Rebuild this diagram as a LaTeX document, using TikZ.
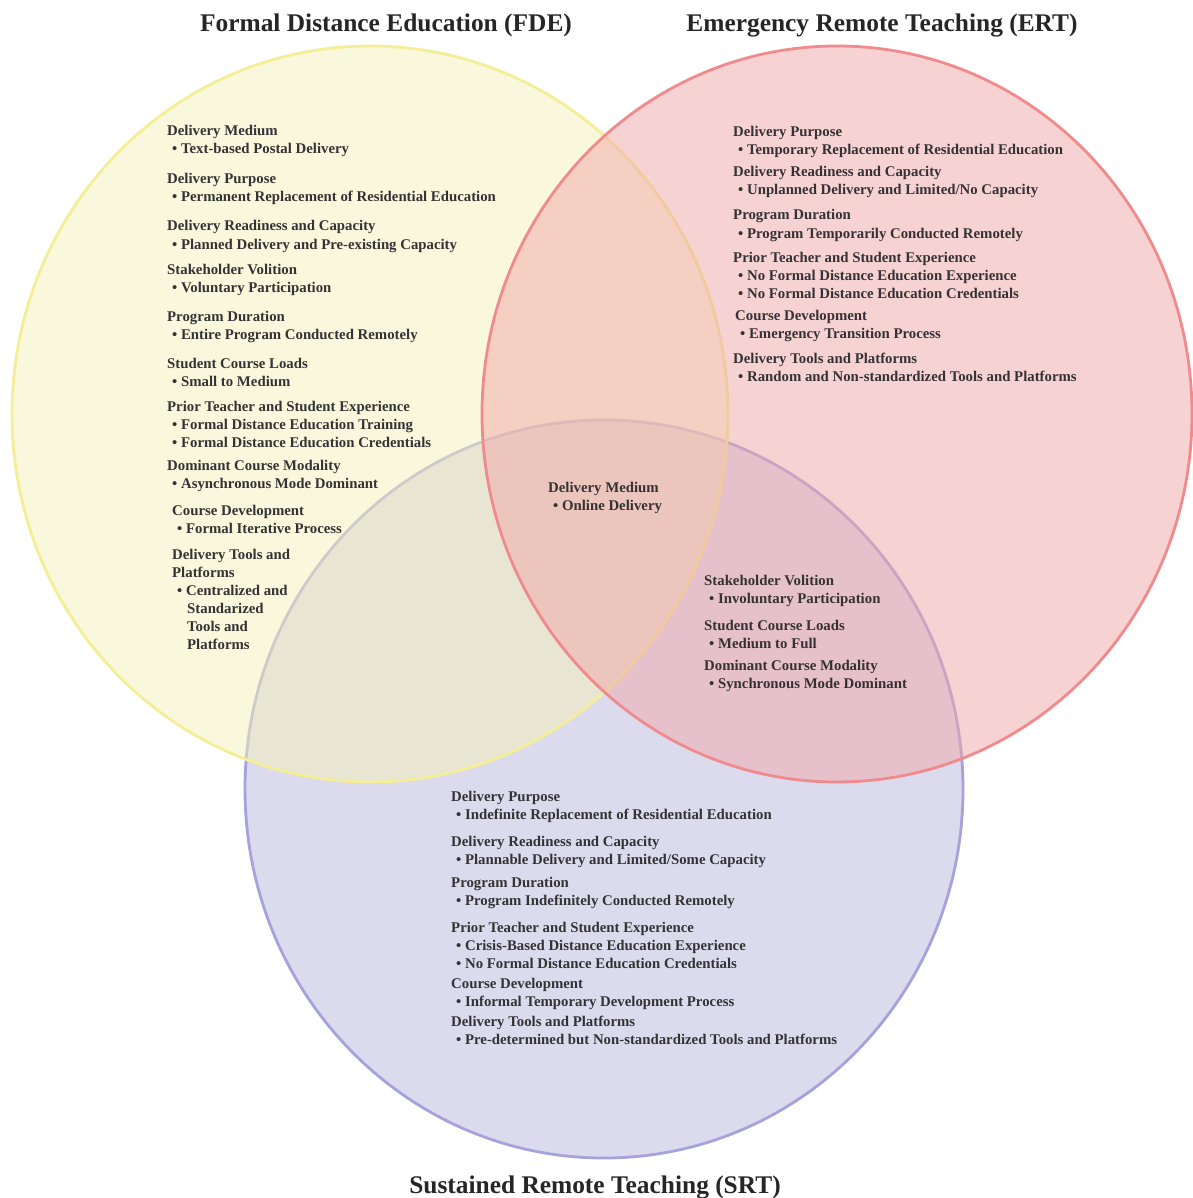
\documentclass[tikz,border=0pt]{standalone}
\usepackage{fontspec}
\setmainfont{Liberation Serif}
\definecolor{yelC}{RGB}{246,242,186}
\definecolor{redC}{RGB}{241,167,169}
\definecolor{bluC}{RGB}{185,185,221}
\definecolor{yelL}{RGB}{244,238,150}
\definecolor{redL}{RGB}{240,138,140}
\definecolor{bluL}{RGB}{165,162,220}
\definecolor{txtc}{RGB}{52,50,52}
\tikzset{
  setcirc/.style={line width=2.8pt, fill opacity=0.5, draw opacity=1},
  hd/.style={anchor=base west, inner sep=0pt, text=txtc, font=\bfseries\fontsize{14.8}{16}\selectfont},
  bl/.style={hd, xshift=5pt},
  ttl/.style={anchor=base, inner sep=0pt, text=black!85, font=\bfseries\fontsize{25.4}{28}\selectfont}
}
\newcommand{\bul}{\textbullet\ }
\begin{document}
\begin{tikzpicture}[x=1pt,y=-1pt]
\useasboundingbox (0,0) rectangle (1192,1198);
\fill[white] (0,0) rectangle (1192,1198);
% circles
\draw[setcirc, fill=bluC, draw=bluL] (604,789) ellipse [x radius=359, y radius=369];
\draw[setcirc, fill=yelC, draw=yelL] (370,414) ellipse [x radius=358, y radius=368];
\draw[setcirc, fill=redC, draw=redL] (837,414) ellipse [x radius=355, y radius=368];
% titles
\node[ttl] (tfde) at (386,32) {Formal Distance Education (FDE)};
\node[ttl] (tert) at (882,32) {Emergency Remote Teaching (ERT)};
\node[ttl] (tsrt) at (595,1193) {Sustained Remote Teaching (SRT)};
% FDE
\node[hd] (f1)  at (167,136) {Delivery Medium};
\node[bl] (f2)  at (167,154) {\bul Text-based Postal Delivery};
\node[hd] (f3)  at (167,184) {Delivery Purpose};
\node[bl] (f4)  at (167,202) {\bul Permanent Replacement of Residential Education};
\node[hd] (f5)  at (167,231) {Delivery Readiness and Capacity};
\node[bl] (f6)  at (167,249) {\bul Planned Delivery and Pre-existing Capacity};
\node[hd] (f7)  at (167,274) {Stakeholder Volition};
\node[bl] (f8)  at (167,292) {\bul Voluntary Participation};
\node[hd] (f9)  at (167,321) {Program Duration};
\node[bl] (f10) at (167,339) {\bul Entire Program Conducted Remotely};
\node[hd] (f11) at (167,368) {Student Course Loads};
\node[bl] (f12) at (167,386) {\bul Small to Medium};
\node[hd] (f13) at (167,411) {Prior Teacher and Student Experience};
\node[bl] (f14) at (167,429) {\bul Formal Distance Education Training};
\node[bl] (f15) at (167,447) {\bul Formal Distance Education Credentials};
\node[hd] (f16) at (167,470) {Dominant Course Modality};
\node[bl] (f17) at (167,488) {\bul Asynchronous Mode Dominant};
\node[hd] (f18) at (172,515) {Course Development};
\node[bl] (f19) at (172,533) {\bul Formal Iterative Process};
\node[hd] (f20) at (172,559) {Delivery Tools and};
\node[hd] (f21) at (172,577) {Platforms};
\node[bl] (f22) at (172,595) {\bul Centralized and};
\node[hd] (f23) at (187,613) {Standarized};
\node[hd] (f24) at (187,631) {Tools and};
\node[hd] (f25) at (187,649) {Platforms};
% ERT
\node[hd] (e1)  at (733,137) {Delivery Purpose};
\node[bl] (e2)  at (733,155) {\bul Temporary Replacement of Residential Education};
\node[hd] (e3)  at (733,177) {Delivery Readiness and Capacity};
\node[bl] (e4)  at (733,195) {\bul Unplanned Delivery and Limited/No Capacity};
\node[hd] (e5)  at (733,220) {Program Duration};
\node[bl] (e6)  at (733,238) {\bul Program Temporarily Conducted Remotely};
\node[hd] (e7)  at (733,262) {Prior Teacher and Student Experience};
\node[bl] (e8)  at (733,280) {\bul No Formal Distance Education Experience};
\node[bl] (e9)  at (733,298) {\bul No Formal Distance Education Credentials};
\node[hd] (e10) at (735,320) {Course Development};
\node[bl] (e11) at (735,338) {\bul Emergency Transition Process};
\node[hd] (e12) at (733,363) {Delivery Tools and Platforms};
\node[bl] (e13) at (733,381) {\bul Random and Non-standardized Tools and Platforms};
% centre
\node[hd] (c1) at (548,492) {Delivery Medium};
\node[bl] (c2) at (548,510) {\bul Online Delivery};
% ERT and SRT
\node[hd] (r1) at (704,585) {Stakeholder Volition};
\node[bl] (r2) at (704,603) {\bul Involuntary Participation};
\node[hd] (r3) at (704,630) {Student Course Loads};
\node[bl] (r4) at (704,648) {\bul Medium to Full};
\node[hd] (r5) at (704,670) {Dominant Course Modality};
\node[bl] (r6) at (704,688) {\bul Synchronous Mode Dominant};
% SRT
\node[hd] (s1)  at (451,801)  {Delivery Purpose};
\node[bl] (s2)  at (451,819)  {\bul Indefinite Replacement of Residential Education};
\node[hd] (s3)  at (451,846)  {Delivery Readiness and Capacity};
\node[bl] (s4)  at (451,864)  {\bul Plannable Delivery and Limited/Some Capacity};
\node[hd] (s5)  at (451,887)  {Program Duration};
\node[bl] (s6)  at (451,905)  {\bul Program Indefinitely Conducted Remotely};
\node[hd] (s7)  at (451,932)  {Prior Teacher and Student Experience};
\node[bl] (s8)  at (451,950)  {\bul Crisis-Based Distance Education Experience};
\node[bl] (s9)  at (451,968)  {\bul No Formal Distance Education Credentials};
\node[hd] (s10) at (451,988)  {Course Development};
\node[bl] (s11) at (451,1006) {\bul Informal Temporary Development Process};
\node[hd] (s12) at (451,1026) {Delivery Tools and Platforms};
\node[bl] (s13) at (451,1044) {\bul Pre-determined but Non-standardized Tools and Platforms};
\end{tikzpicture}
\end{document}
